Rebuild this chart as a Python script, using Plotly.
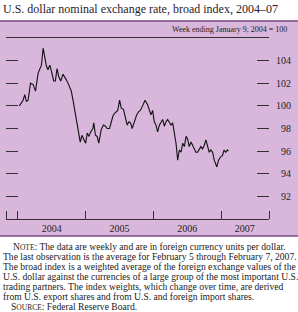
import plotly.graph_objects as go

dates = [
    "2004-01-09", "2004-01-29", "2004-02-07", "2004-02-16", "2004-02-25", "2004-03-09",
    "2004-03-23", "2004-04-05", "2004-04-19", "2004-04-28", "2004-05-07", "2004-05-16",
    "2004-05-25", "2004-06-03", "2004-06-11", "2004-06-21", "2004-06-30", "2004-07-12",
    "2004-07-21", "2004-07-30", "2004-08-08", "2004-08-19", "2004-08-31", "2004-09-09",
    "2004-09-18", "2004-09-30", "2004-10-15", "2004-10-24", "2004-11-02", "2004-11-11",
    "2004-11-19", "2004-12-02", "2004-12-11", "2004-12-20", "2004-12-31", "2005-01-09",
    "2005-01-18", "2005-01-27", "2005-02-08", "2005-02-13", "2005-02-22", "2005-03-03",
    "2005-03-12", "2005-03-25", "2005-04-06", "2005-04-17", "2005-04-26", "2005-05-09",
    "2005-05-18", "2005-05-27", "2005-06-05", "2005-06-14", "2005-06-22", "2005-07-02",
    "2005-07-11", "2005-07-23", "2005-08-03", "2005-08-12", "2005-08-21", "2005-08-30",
    "2005-09-08", "2005-09-20", "2005-10-02", "2005-10-13", "2005-10-22", "2005-11-03",
    "2005-11-16", "2005-11-30", "2005-12-09", "2005-12-18", "2005-12-27", "2006-01-05",
    "2006-01-14", "2006-01-23", "2006-02-01", "2006-02-10", "2006-02-19", "2006-02-28",
    "2006-03-09", "2006-03-18", "2006-03-27", "2006-04-05", "2006-04-14", "2006-04-23",
    "2006-05-02", "2006-05-11", "2006-05-20", "2006-05-29", "2006-06-07", "2006-06-16",
    "2006-06-25", "2006-07-03", "2006-07-12", "2006-07-22", "2006-07-30", "2006-08-08",
    "2006-08-17", "2006-08-26", "2006-09-04", "2006-09-13", "2006-09-22", "2006-10-01",
    "2006-10-10", "2006-10-19", "2006-10-28", "2006-11-06", "2006-11-15", "2006-11-24",
    "2006-12-03", "2006-12-08", "2006-12-17", "2006-12-29", "2007-01-07", "2007-01-16",
    "2007-01-25", "2007-02-03", "2007-02-08",
]
index_values = [
    100.0, 100.5, 101.0, 100.4, 100.5, 102.0,
    101.9, 101.3, 102.9, 103.3, 103.6, 105.1,
    104.2, 103.5, 103.2, 103.6, 103.05, 102.2,
    102.2, 103.3, 102.6, 102.2, 102.8, 102.6,
    102.3, 101.9, 101.3, 100.5, 99.6, 98.9,
    98.2, 96.8, 97.4, 97.1, 96.7, 97.6,
    97.3, 97.7, 98.0, 98.5, 97.4, 97.3,
    96.7, 97.9, 98.3, 98.2, 98.0, 98.0,
    98.6, 99.1, 99.35, 99.5, 99.6, 100.5,
    99.8, 99.7, 99.05, 98.3, 98.6, 98.5,
    98.0, 98.7, 99.2, 99.5, 99.6, 100.0,
    100.5, 100.1, 99.6, 99.2, 99.6, 98.6,
    98.3, 97.7, 98.3, 98.5, 98.8, 98.2,
    98.6, 98.8, 98.6, 98.3, 98.5, 97.7,
    96.7, 95.2, 96.1, 95.9, 96.7, 96.4,
    97.3, 97.1, 96.4, 96.8, 96.5, 96.1,
    95.9, 95.9, 96.1, 96.4, 96.2, 96.5,
    97.0, 96.4, 95.9, 96.1, 95.9, 95.2,
    94.9, 94.6, 95.2, 95.5, 95.6, 96.1,
    95.9, 96.1, 96.0,
]

x_range = ["2003-10-29", "2007-09-15"]
year_ticks = ["2003-10-29", "2004-01-01", "2005-01-01", "2006-01-01", "2007-01-01", "2007-09-15"]
year_label_pos = ["2004-07-02", "2005-07-02", "2006-07-02", "2007-05-08"]
year_labels = ["2004", "2005", "2006", "2007"]
y_ticks = [92, 94, 96, 98, 100, 102, 104]
y_tick_text = ["\u200792", "\u200794", "\u200796", "\u200798", "100", "102", "104"]
y_range = [90, 106]

title = "U.S. dollar nominal exchange rate, broad index, 2004\u201307"
units = "Week ending January 9, 2004 = 100"
sc = "<span style='font-size:7.5px'>"
note_lines = [
    "N" + sc + "OTE</span>: The data are weekly and are in foreign currency units per dollar.",
    "The last observation is the average for February 5 through February 7, 2007.",
    "The broad index is a weighted average of the foreign exchange values of the",
    "U.S. dollar against the currencies of a large group of the most important U.S.",
    "trading partners. The index weights, which change over time, are derived",
    "from U.S. export shares and from U.S. and foreign import shares.",
    "S" + sc + "OURCE</span>: Federal Reserve Board.",
]

W, H = 298, 312
L, R, T, B = 6, 269, 38, 219
pw, ph = R - L, B - T

def px(x):
    return (x - L) / pw

def py(y):
    return (B - y) / ph

FONT = "Liberation Serif, Times New Roman, serif"
AX = "#333333"

fig = go.Figure()
fig.add_trace(go.Scatter(x=dates, y=index_values, mode="lines",
                         line=dict(color="#111111", width=1.1), showlegend=False))

fig.update_layout(
    width=W, height=H,
    margin=dict(l=L, r=W - R, t=T, b=H - B, pad=0),
    paper_bgcolor="white", plot_bgcolor="rgba(0,0,0,0)",
    font=dict(family=FONT, color="#222222", size=10),
    xaxis=dict(type="date", range=x_range, tickmode="array", tickvals=year_label_pos,
               ticktext=year_labels, ticks="", showgrid=False, zeroline=False,
               showline=True, linecolor=AX, linewidth=1, mirror=False,
               tickfont=dict(size=10, family=FONT, color="#222222"),
               minor=dict(tickmode="array", tickvals=year_ticks, ticks="inside",
                          ticklen=8, tickcolor=AX, tickwidth=1, showgrid=False)),
    xaxis2=dict(type="date", range=x_range, overlaying="x", side="top",
                showticklabels=False, ticks="", showgrid=False, zeroline=False,
                showline=True, linecolor=AX, linewidth=1, anchor="y"),
    yaxis=dict(range=y_range, tickmode="array", tickvals=y_ticks, showticklabels=False,
               ticks="inside", ticklen=12, tickcolor=AX, tickwidth=1,
               showgrid=False, zeroline=False, showline=False),
    yaxis2=dict(range=y_range, overlaying="y", side="right", tickmode="array",
                tickvals=y_ticks, ticktext=y_tick_text, ticks="inside", ticklen=12,
                tickcolor=AX, tickwidth=1, showgrid=False, zeroline=False,
                showline=False, ticklabelstandoff=6,
                tickfont=dict(size=10, family=FONT, color="#222222")),
)

# invisible trace to activate top axis line and right axis
fig.add_trace(go.Scatter(x=[dates[0]], y=[index_values[0]], xaxis="x2", yaxis="y2",
                         mode="markers", marker=dict(opacity=0), showlegend=False,
                         hoverinfo="skip"))

fig.add_shape(type="rect", xref="paper", yref="paper",
              x0=px(0), x1=px(W), y0=py(236), y1=py(21),
              fillcolor="#d9b7dc", line=dict(width=0), layer="below")
fig.add_shape(type="line", xref="paper", yref="paper",
              x0=px(0), x1=px(W), y0=py(21), y1=py(21),
              line=dict(color="#7a4a80", width=1.5))
fig.add_shape(type="line", xref="paper", yref="paper",
              x0=px(0), x1=px(W), y0=py(236), y1=py(236),
              line=dict(color="#7a4a80", width=1.5))

fig.add_annotation(text=title, xref="paper", yref="paper", x=px(1), y=py(9),
                   xanchor="left", yanchor="middle", showarrow=False,
                   font=dict(size=12, family=FONT, color="#2a1a2c"))
fig.add_annotation(text=units, xref="paper", yref="paper", x=px(289), y=py(30),
                   xanchor="right", yanchor="middle", showarrow=False,
                   font=dict(size=8, family=FONT, color="#222222"))

for i, line in enumerate(note_lines):
    xpos = 11 if i == 0 else (9 if i == len(note_lines) - 1 else 1)
    fig.add_annotation(text=line, xref="paper", yref="paper", x=px(xpos),
                       y=py(246 + 10 * i), xanchor="left", yanchor="middle",
                       showarrow=False, font=dict(size=9.6, family=FONT, color="#222222"))

fig.write_html("out.html")
